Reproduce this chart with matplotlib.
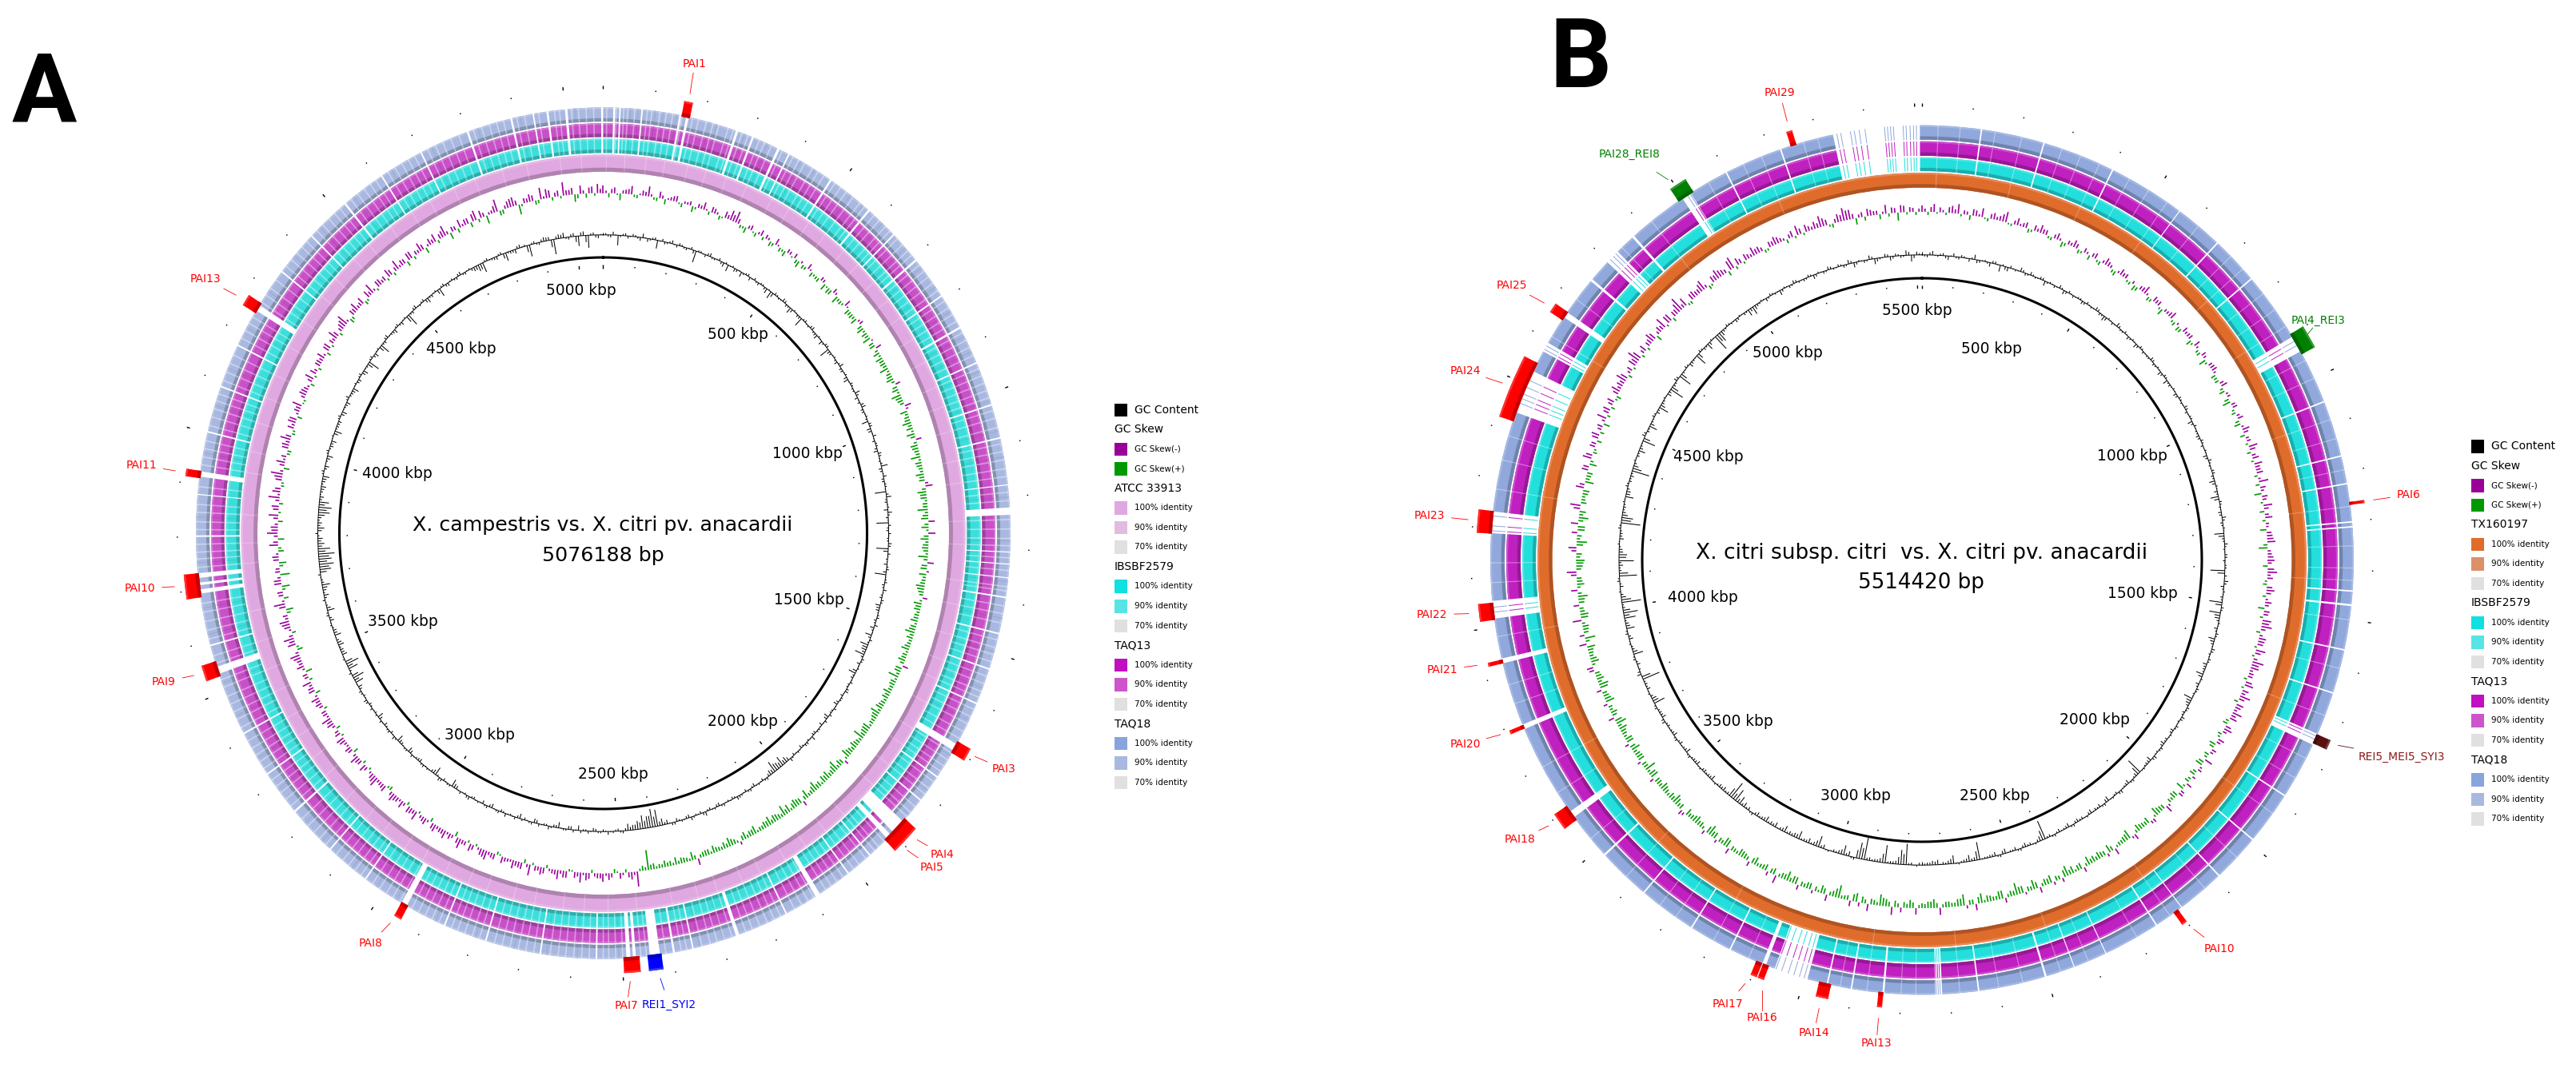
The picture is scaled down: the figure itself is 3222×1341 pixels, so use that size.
import matplotlib
matplotlib.use("Agg")
import matplotlib.pyplot as plt
from matplotlib.patches import Rectangle
import numpy as np

W, H = 3223, 1341

# panel A values, kbp unless noted
a_total = 5076.188
a_ticks = [500, 1000, 1500, 2000, 2500, 3000, 3500, 4000, 4500, 5000]
a_pai_names = ["PAI1", "PAI3", "PAI4", "PAI5", "REI1_SYI2", "PAI7", "PAI8", "PAI9", "PAI10", "PAI11", "PAI13"]
a_pai_kbp = [165, 1695, 1882, 1909, 2436, 2482, 2950, 3545, 3708, 3919, 4258]
a_pai_span = [17, 25, 38, 22, 28, 32, 15, 30, 46, 14, 22]
a_pai_color = ["red", "red", "red", "red", "blue", "red", "red", "red", "red", "red", "red"]
a_gap_start = [20, 32, 76, 152, 166, 268, 302, 357, 381, 477, 572, 640, 705, 790, 860, 935, 1020, 1085, 1176, 1220,
               1304, 1327, 1353, 1390, 1460, 1530, 1600, 1688, 1760, 1815, 1870, 1905, 1960, 2015, 2085, 2160, 2263,
               2357, 2395, 2425, 2473, 2484, 2550, 2662, 2773, 2860, 2945, 3040, 3130, 3230, 3320, 3410, 3535, 3590,
               3692, 3708, 3722, 3800, 3880, 3915, 4000, 4090, 4175, 4252, 4340, 4430, 4520, 4610, 4700, 4800, 4890,
               4935, 4963, 5000, 5072]
a_gap_span = [4, 3, 3, 4, 5, 5, 4, 5, 3, 4, 4, 3, 4, 3, 4, 3, 3, 3, 2, 14,
              2, 2, 2, 3, 3, 3, 3, 14, 3, 3, 28, 10, 3, 3, 10, 3, 7,
              3, 4, 20, 6, 8, 3, 3, 3, 3, 12, 3, 3, 4, 3, 3, 14, 3,
              8, 5, 9, 3, 2, 10, 3, 3, 3, 12, 3, 3, 4, 3, 3, 4, 4,
              3, 4, 5, 4]
a_light = [7, 26, 41, 49, 63, 88, 97, 113, 126, 139, 158, 179, 191, 207, 221, 233, 252, 263, 281, 294, 318, 329, 344,
           368, 392, 405, 418, 436, 449, 463, 489, 503, 517, 534, 551, 563, 588, 602, 619, 631, 652, 667, 683, 694,
           718, 733, 747, 762, 779, 803, 818, 833, 848, 873, 889, 904, 921, 948, 963, 978, 993, 1007, 1033, 1048, 1066,
           1098, 1113, 1129, 1146, 1161, 1191, 1207, 1243, 1261, 1279, 1293, 1316, 1340, 1371, 1379, 1408, 1423, 1441,
           1474, 1489, 1503, 1517, 1546, 1561, 1577, 1589, 1614, 1629, 1644, 1661, 1676, 1708, 1723, 1737, 1749, 1773,
           1789, 1802, 1833, 1847, 1858, 1923, 1938, 1949, 1972, 1989, 2003, 2029, 2044, 2058, 2071, 2099, 2112, 2127,
           2143, 2174, 2188, 2203, 2219, 2235, 2249, 2278, 2294, 2309, 2323, 2340, 2371, 2382, 2413, 2452, 2463, 2499,
           2513, 2527, 2538, 2566, 2581, 2597, 2613, 2628, 2644, 2677, 2693, 2708, 2725, 2741, 2757, 2788, 2803, 2819,
           2834, 2847, 2874, 2889, 2904, 2919, 2934, 2961, 2977, 2992, 3008, 3025, 3053, 3068, 3084, 3099, 3116, 3144,
           3161, 3177, 3194, 3212, 3245, 3261, 3277, 3292, 3307, 3334, 3349, 3364, 3379, 3395, 3424, 3441, 3457, 3473,
           3489, 3508, 3523, 3556, 3571, 3604, 3621, 3638, 3656, 3673, 3742, 3758, 3771, 3786, 3814, 3829, 3847, 3862,
           3896, 3938, 3953, 3969, 3984, 4014, 4031, 4047, 4063, 4077, 4104, 4121, 4139, 4156, 4192, 4208, 4224, 4238,
           4271, 4287, 4303, 4322, 4355, 4371, 4388, 4403, 4417, 4446, 4462, 4479, 4494, 4508, 4536, 4553, 4569, 4584,
           4597, 4626, 4642, 4658, 4673, 4687, 4716, 4733, 4749, 4766, 4783, 4814, 4831, 4847, 4862, 4876, 4903, 4919,
           4947, 4979, 4989, 5013, 5027, 5042, 5057]
a_deep = [54, 70, 104, 120, 147, 214, 228, 287, 336, 410, 442, 527, 558, 610, 676, 725, 771, 826, 881, 913, 954, 1014,
          1073, 1123, 1200, 1284, 1361, 1432, 1497, 1570, 1637, 1713, 1794, 1852, 1943, 2036, 2120, 2197, 2296, 2345,
          2507, 2590, 2651, 2716, 2796, 2881, 2969, 3015, 3075, 3153, 3202, 3285, 3357, 3448, 3516, 3613, 3664, 3751,
          3838, 3961, 4054, 4129, 4215, 4296, 4380, 4455, 4543, 4634, 4725, 4823, 4910, 5020]
a_skew = [9, -5, 7, -8, 5, 10, -4, 6, 12, -3, 8, -6, 4, 7, -5, 3, -7, 5, 9, -4, 6, -5, 8, 12, 14, -4, -7, 6, -5, 7,
          5, -6, 8, -5, -7, 4, 6, -8, -5, 7, -6, -4, 5, -8, -7, 6, -9, -5, 8, -7, -6, -8, 5, -9, -7, -10, -6, 7, -8, -9,
          -7, -11, -6, -9, 6, -8, -12, -7, 8, -9, -6, -11, -8, -10, 7, -9, -6, -12, -8, -5, -10, -7, 9, -11, -8, -6, -13, -7, 8, -9,
          9, -10, -7, -6, -12, 8, -8, -9, -5, -11, -7, 6, -10, -8, -6, -9, -7, -12, -8, -5, -10, -6, -9, 7, -8, -13, -7, -5, -10, -8,
          -6, -9, -12, -7, -5, -10, -8, -14, -6, -9, -7, -11, 5, -8, -13, -6, -10, -9, -7, -12, -5, -11, 6, -8, -7, -10, -13, -6, -9, -11,
          -8, -5, -10, -7, -9, 4, -6, -11, -8, -5, -9, -7, -6, 8, -10, -5, -7, -9, -6, -8, -5, -7, -24, -6, 18, 9, -4, 7, -5, 8,
          10, 6, -4, 9, 12, 7, -3, 8, 11, 5, -4, 9, 6, 13, -5, 7, 10, 4, 8, -4, 6, 11, 8, -3, 9, 5, 12, -6, 7, 10,
          6, 9, -5, 8, 4, 11, 7, -4, 9, 6, 10, -5, 8, 5, 12, 7, -3, 9, 6, 11, -6, 8, 4, 10, 7, -5, 9, 12, 6, -4,
          8, 10, -6, 7, 11, 5, -8, 9, 6, 12, -7, 10, 13, -5, 8, 12, 6, -9, 14, -6, 7, -10, 9, -12, 5, -9, 8, -7, 11, -8,
          13, 9, -6, 12, 7, -5, 14, 10, -4, 8, 15, -7, 11, 6, -5, 9, 13, -4, 8, 10, -6, 7, 12, -3, 9, 6, -5, 11, 8, -4,
          7, 10, -5, 9, 6, 12, -4, 8, 14, -6, 7, 11, 5, -5, 9, 13, -3, 8, 6, 10, -4, 12, 7, -6, 9, 5, 11, -7, 8, 10,
          6, 13, -8, 5, 10, 7, -6, 12, 9, -10, 4, 15, -5, 8, 11, -12, 6, 9, -5, 14, 11, -4, 7, 16, 6, -9, 10, -5, 8, 11]
a_skew_fill = [3, 5, -2, 4, 6, -3, 2, 5, 3, -4, 4, 2, 6, -2, 3, 5, -3, 4, 2, 7, 3, -2, 5, 8, 6, -3, 4, -2, 3, -4,
               3, -4, 2, -3, 5, -2, -5, 3, -4, 2, -3, -5, 4, -2, -6, 3, -4, -3, 2, -5, -4, 3, -6, -3, -5, 2, -7, -4, -3, -6,
               -5, -3, -7, -4, -6, -3, -8, -5, 3, -4, -7, -5, -3, -6, -4, -8, -5, -3, -7, -4, -6, 4, -5, -8, -3, -6, -4, -9, -5, -3,
               -6, -4, -8, -3, -5, -7, 3, -4, -6, -9, -5, -3, -7, -4, -6, -3, -8, -5, -4, -7, -3, -6, -5, -8, -4, -3, -7, -5, -6, -4,
               -7, -4, -8, -5, -3, -9, -6, -4, -7, -5, -8, -3, -6, -4, -9, -5, -7, -3, -6, -8, -4, -5, -7, -10, -3, -6, -4, -8, -5, -7,
               -5, -3, -7, -4, -6, -3, -8, -5, -4, -6, -3, -7, -4, -5, -3, -6, -4, -3, -5, -4, -3, -6, -4, -3, 4, 6, 3, -2, 5, 3,
               6, 4, 7, 3, 5, -2, 8, 4, 6, 3, 7, 5, -3, 4, 8, 6, 3, 5, -2, 7, 4, 9, 3, 6, -3, 5, 7, 4, 3, 6,
               4, 7, 3, 6, -3, 5, 8, 4, 3, 7, 5, -3, 6, 4, 9, 3, 5, -4, 7, 4, 6, 3, 8, -3, 5, 4, 7, 3, 6, 5,
               6, 3, 8, 4, -4, 6, 3, 5, 9, 4, -3, 7, 5, 3, 10, 4, -5, 8, 3, 6, -4, 9, 4, 6, -5, 7, 3, -4, 6, 5,
               8, 4, 6, -3, 9, 5, 3, 7, -3, 10, 4, 6, 3, -4, 8, 5, 7, -3, 4, 9, 3, 6, -2, 5, 8, 3, 6, -3, 4, 7,
               5, 3, 8, -3, 4, 7, 5, 10, 3, -4, 6, 4, 9, -3, 5, 3, 8, 4, -3, 7, 5, 3, 6, 9, -4, 4, 7, 3, 5, -4,
               8, 4, 6, -5, 3, 7, 9, -4, 5, 3, 8, -6, 4, 10, 6, -3, 5, 7, -4, 3, 9, 5, -3, 6, 8, -5, 4, 7, -3, 5]
a_gc = [3, -2, 4, -12, 2, -3, 3, -2, 5, -4, 2, -10, 3, -2, 4, -3, 2, -3, 3, -14, 2, -3, 4, -2, 3, -5, -8, 2, -3, -6,
        2, -4, 3, -3, 2, -6, -9, 3, -2, 4, -3, -7, 2, -3, -11, 3, -2, 4, -3, 2, -5, 3, -12, -3, 2, -4, 5, -3, 2, -6,
        3, -2, 6, -4, -3, 5, -3, 2, -8, 3, -4, 4, -3, 2, -5, 3, -2, 8, -3, 4, -3, 2, -14, 6, -3, 2, 5, -3, -15, -2,
        3, -2, 4, -15, 3, -2, -4, 3, -14, 2, -3, 4, -2, 3, -6, -4, 2, -3, 4, -2, -8, 3, -10, -6, -12, 3, -4, 2, -9, -3,
        3, -2, 4, -3, 2, -5, 3, -2, -6, 3, -4, 2, -3, 5, -2, 3, -4, 2, -3, 4, -7, -12, -8, -14, -6, 3, -3, 2, -4, 3,
        -3, 2, 4, -3, -2, 3, -4, 2, -3, 5, -3, -2, 4, -3, 2, -4, 3, -5, -8, -20, -22, -14, -16, -10, -6, -8, 3, -3, 2, 4,
        -3, 2, -4, 3, -2, -6, 3, -4, 2, -7, -3, 4, -2, 3, -5, 2, -3, -6, 3, -2, 4, -3, 2, -5, 3, -4, 2, -3, 4, -2,
        3, -4, -9, 2, -3, 4, -10, -3, 2, 3, -4, -2, 3, -6, 2, -3, -8, 4, -3, 2, -4, 3, -7, -2, 3, -3, 4, -2, 3, -5,
        -10, -14, 3, -12, -16, 2, -6, -4, -7, -3, -8, -4, 2, -5, 3, -9, -2, 3, -6, -4, -10, -2, 3, -14, -18, -16, -20, -15, -8, -6,
        3, -8, -5, -4, -14, -16, -12, -5, -3, -6, -4, -8, 3, -5, -2, -7, 3, -4, -6, 2, -9, -3, -4, 3, -6, -2, -5, 4, -3, -7,
        2, -4, 3, -6, -2, -14, 3, -5, 2, -12, -3, 4, -2, -5, 3, -4, 2, -15, -3, 4, -2, 3, -6, -3, 2, -10, 3, -4, 2, -3,
        4, -3, 2, -5, -8, -12, 3, -2, -4, 3, -10, -3, -5, 4, 2, -14, 3, -3, 5, 4, -18, 5, 6, -3, 4, -12, 5, -15, 3, -4]
a_gc_fill = [2, -3, 1, -2, 3, -1, 2, -4, 1, -2, 3, -1, -3, 2, -1, 3, -2, 1, -4, 2, -1, 3, -2, 1, -3, 2, -1, -4, 1, -2,
             3, -1, -2, 2, -3, 1, -5, 2, -1, 3, -2, -4, 1, -3, 2, -1, 3, -2, -5, 1, -2, 3, -4, 1, -2, 2, -3, 1, -4, -1,
             2, -2, 3, -1, 4, -3, 1, -2, 3, -5, 1, -1, 2, -3, 4, -1, 2, -4, 1, -3, 2, -1, 3, -2, 1, -5, 2, -1, 3, -3,
             1, -2, 3, -6, 1, -1, 2, -4, 1, 3, -2, 1, -3, 2, -4, -1, 3, -2, -5, 1, -3, -2, -6, -4, -3, 2, -1, -5, -2, 1,
             -2, 3, -1, 2, -3, 1, -2, 3, -4, 1, -1, 2, -3, 1, 3, -2, 1, -1, 2, -4, -5, -6, -9, -5, -3, 2, -1, 1, -2, 2,
             -1, 3, -2, 1, -1, 2, -3, 1, -2, 3, -1, 2, -4, 1, -2, 3, -1, -3, -5, -12, -14, -9, -8, -6, -4, -3, 2, -2, 1, -1,
             2, -3, 1, -2, 3, -1, -4, 2, -1, -3, 2, -2, 1, -4, 3, -1, 2, -3, 1, -1, -2, 3, -1, -3, 2, -1, 1, -2, 3, -1,
             1, -5, 2, -1, 3, -2, -5, 1, -1, 2, -3, 1, -4, 2, -1, -4, 2, -1, 3, -2, 1, -4, 2, -1, -2, 3, -1, 2, -3, 1,
             -6, -8, -2, -7, -9, 1, -4, -2, -5, -1, -4, -2, 1, -3, 2, -5, -1, -3, -2, -6, -3, 1, -8, -12, -10, -13, -9, -5, -4, -2,
             -5, -3, -2, -8, -10, -7, -3, -1, -4, -2, -5, 2, -3, -1, -4, 2, -2, -3, 1, -5, -2, -3, 2, -4, -1, -3, 2, -2, -4, 1,
             -3, 2, -4, -1, -7, 2, -3, 1, -6, -2, 3, -1, -3, 2, -2, 1, -8, -2, 3, -1, 2, -4, -2, 1, -5, 2, -3, 1, -2, 3,
             -2, 1, -3, -5, -7, 2, -1, -3, 2, -6, -2, -3, 3, 1, -8, 2, -2, 3, 4, -9, 3, 4, -2, 3, -7, 4, -8, 2, -3, 1]

# panel B values
b_total = 5514.420
b_ticks = [500, 1000, 1500, 2000, 2500, 3000, 3500, 4000, 4500, 5000, 5500]
b_pai_names = ["PAI4_REI3", "PAI6", "REI5_MEI5_SYI3", "PAI10", "PAI13", "PAI14", "PAI16", "PAI17", "PAI18", "PAI20",
               "PAI21", "PAI22", "PAI23", "PAI24", "PAI25", "PAI28_REI8", "PAI29"]
b_pai_kbp = [922, 1264, 1751, 2205, 2841, 2956, 3082, 3097, 3590, 3790, 3929, 4032, 4212, 4485, 4659, 5006, 5249]
b_pai_span = [47, 6, 20, 11, 10, 25, 13, 13, 35, 8, 8, 35, 46, 128, 20, 36, 12]
b_pai_color = ["green", "red", "#5a1010", "red", "red", "red", "red", "red", "red", "red",
               "red", "red", "red", "red", "red", "green", "red"]
b_gap_start = [120, 250, 400, 560, 660, 760, 905, 1050, 1165, 1222, 1300, 1310, 1440, 1468, 1560, 1650, 1740, 1880,
               1990, 2090, 2190, 2252, 2370, 2440, 2500, 2640, 2716, 2834, 2900, 2950, 2993, 3082, 3160, 3250, 3370,
               3480, 3580, 3785, 3925, 4017, 4190, 4440, 4575, 4656, 4747, 4798, 4869, 4998, 5100, 5220, 5332]
b_gap_span = [3, 3, 3, 2, 3, 3, 34, 3, 3, 3, 3, 3, 3, 4, 3, 3, 24, 3,
              3, 3, 2, 3, 2, 2, 4, 3, 14, 4, 3, 3, 70, 8, 3, 3, 3,
              4, 14, 10, 10, 36, 44, 90, 20, 12, 5, 30, 5, 20, 3, 3, 178]
b_kept = [5340, 5348, 5368, 5376, 5386, 5398, 5438, 5444, 5450, 5456, 5476, 5482, 5490, 5497, 5503, 5010, 5016,
          4806, 4815, 4822, 4580, 4588, 4460, 4470, 4480, 4495, 4510, 4195, 4205, 4225, 4030, 4040, 3000, 3010,
          3022, 3034, 3048, 3060, 2720, 2724, 2728, 915, 925, 1745, 1752]
b_light = [33, 78, 150, 205, 290, 330, 372, 440, 485, 530, 610, 700, 735, 800, 840, 880, 960, 1000, 1090, 1130, 1195,
           1270, 1350, 1395, 1420, 1500, 1600, 1700, 1795, 1840, 1925, 2040, 2130, 2220, 2300, 2410, 2470, 2550, 2600,
           2680, 2770, 2800, 2870, 2925, 3120, 3200, 3290, 3330, 3420, 3525, 3640, 3700, 3840, 3880, 3980, 4090, 4130,
           4280, 4340, 4390, 4610, 4700, 4840, 4920, 5060, 5140, 5180, 5270, 5300]
b_skew = [8, -4, 10, 6, -3, 9, 12, 5, -6, 7, 11, -4, 8, 6, 13, -3, 9, 5, -5, 7, 10, 6, -4, 8, -7, 5, 9, -5, 6, -6,
          7, -5, 9, 4, -6, 8, 6, -4, -7, 5, 10, -5, 7, 6, -8, 4, 9, -5, -6, 7, 5, -7, 8, -4, 6, -9, 5, 7, -6, -5,
          8, -7, 4, -10, 6, -5, 7, -8, 9, -6, 5, 11, -5, 8, 10, 6, -4, 12, 7, -9, 5, 11, -6, 9, 4, -8, 7, 10, -11, 5,
          9, -6, 12, 7, -5, 10, -4, 8, -8, 6, 11, 13, -5, 9, 7, 12, -3, 14, 10, 6, -4, 11, 8, 13, -5, 7, 12, 9, -6, 10,
          -5, 8, -8, 6, -6, 10, -9, 5, -7, -4, 7, -10, 6, -8, -5, 9, -7, -11, 5, -8, -6, -9, 7, -12, -7, -5, 8, -10, -6, -9,
          -8, -11, 6, -7, -9, -13, 5, -6, -10, -8, 7, -12, -6, -9, -15, -7, 6, -10, -5, -8, -12, 8, -6, -14, -9, -5, -7, 9, -11, -8,
          -6, 8, -10, -7, -5, 10, -9, -14, -6, 9, -8, -11, 7, -5, -16, -7, 8, -10, -6, -8, -5, 6, -9, -12, -7, 10, -6, -8, -5, -10,
          6, -7, -9, -5, 7, -11, -6, -8, -13, 5, -7, -10, -6, -9, 6, -5, -12, -8, -6, -10, -7, 5, -9, -14, -6, -8, -7, -11, 5, -9,
          -6, -10, -13, 7, -8, -5, -11, -7, 6, -12, -9, -6, 8, -10, -5, -7, 9, -13, -6, -8, 11, -10, -5, -7, -12, 8, -9, -6, 12, -8,
          -11, -7, 10, -13, -6, -9, 9, -12, -8, 13, -5, -7, 10, -11, -6, 8, -9, 11, -5, 7, -6, 10, 5, -8, 12, 7, -5, 9, -6, 11,
          8, 13, -5, 7, 10, 16, -4, 9, 6, 12, -7, 8, 14, 10, -5, 7, 18, 11, -4, 9, 6, 13, -5, 8, 12, 7, -6, 15, 9, -3,
          6, 11, 8, -4, 7, 10, 5, -5, 8, 12, -3, 6, 9, 14, 7, -5, 10, 16, 12, -8, 6, 9, 5, -6, 11, 7, -10, 8, 6, -4]
b_skew_fill = [4, 6, -2, 3, 7, 5, -3, 4, 8, 3, -2, 6, 4, 9, -2, 5, 3, 7, -3, 4, 6, -3, 5, 3, -4, 4, 6, -3, 3, 5,
               -3, 4, 6, -4, 3, 5, -3, 4, -5, 6, 3, -4, 5, -3, 4, 6, -3, 3, -5, 4, 6, -3, 3, -5, 4, -3, 6, 3, -4, 5,
               -4, 3, -6, 5, -3, 4, -5, 3, 6, 4, -3, 7, 5, -3, 6, 8, 3, -5, 4, 7, -3, 6, 5, -4, 3, 6, 8, -5, 4, 7,
               5, 8, 4, -3, 7, 6, 3, 5, 7, -4, 9, 6, 4, 8, -3, 7, 5, 9, 4, 6, 8, -3, 5, 7, 9, 4, 6, -4, 7, 5,
               -3, 5, -6, 4, -4, -7, 3, -5, 4, -6, -3, 5, -7, -4, 3, -6, -8, -3, 4, -5, -7, -4, 3, -8, -5, -3, -6, 4, -7, -5,
               -6, -4, -8, -3, -6, -9, -5, 4, -7, -4, -8, -5, 3, -9, -6, -4, -10, -5, -7, -3, -8, -6, 4, -9, -5, -7, -4, -6, -8, -5,
               -4, -7, -5, 6, -8, -6, -10, -4, -7, -5, 5, -9, -6, -4, -11, -5, -7, -3, 4, -8, -6, -9, -5, -7, -4, -8, 5, -6, -4, -7,
               -5, -8, -4, -6, -10, -5, 4, -7, -9, -4, -6, -8, -5, 4, -7, -9, -6, -4, -8, -5, -7, -10, -4, -6, 4, -8, -5, -7, -9, -4,
               -7, -5, -9, -6, -4, 5, -8, -6, -10, -5, -7, 6, -4, -8, -6, -10, -5, 6, -7, -4, -9, -6, 7, -8, -5, -4, -7, 7, -6, -9,
               -5, 6, -8, -4, 7, -9, -6, -5, 8, -7, -4, -8, 6, -5, -7, 7, -4, 8, -3, 6, 8, -5, 7, 4, -4, 9, 6, -3, 7, 5,
               6, 9, 4, -3, 8, 11, 5, -4, 7, 9, 4, 6, -3, 10, 7, 12, 5, -3, 8, 6, 10, 4, -3, 7, 9, 5, 12, -4, 6, 8,
               4, 7, 5, -3, 6, 8, 3, 5, -3, 7, 9, 4, 6, 10, -3, 5, 8, 12, 6, 4, -5, 7, 5, 3, -4, 6, 9, -3, 5, 4]
b_gc = [4, -3, 5, -2, 3, -5, 4, -3, 2, -4, 6, -3, 2, -5, 3, -8, -4, 3, -2, 5, -3, 4, -2, 3, -6, 2, -3, 4, -5, 3,
        -3, 2, -4, 3, -2, 4, -3, -6, 2, -3, 5, -2, 3, -4, 2, -5, 3, -3, -2, 4, -3, 2, -5, 3, -6, -3, 2, -4, 3, -2,
        4, -3, 2, -6, 3, -2, -4, 3, -3, 2, -5, 4, -2, 3, -3, -7, 2, -4, -10, 3, -2, -4, 5, -3, 2, -12, -3, 4, -2, 3,
        -3, 2, -18, 3, 5, -4, 2, -3, -16, 3, -14, -6, 2, -4, 3, -8, -3, 4, -2, 3, -5, -3, -9, 2, -4, 3, -2, -11, -5, 3,
        -3, 4, -2, 3, -4, 2, -3, -5, 3, -2, 4, -6, -3, 2, -20, -4, 3, -5, -2, 4, -3, 2, -6, 3, -4, -3, -5, 2, -3, -4,
        3, -5, -2, -4, 3, -3, -24, -6, 2, -3, -5, 3, -4, -2, -6, 3, -5, -3, -2, -22, -4, -8, -3, 2, -10, -4, -3, -6, -5, -3,
        -4, 2, -3, -26, -18, -4, -3, -22, -5, -3, -4, -28, -20, 3, -6, -12, -4, -3, 2, -5, -14, -4, -6, -3, -10, -5, -4, -8, -3, -6,
        -4, -7, -3, -5, 3, -4, -6, -10, -16, -22, -3, -5, -4, 2, -6, -3, -4, 2, -5, -3, 3, -6, -2, -4, 3, -5, -2, -3, 4, -5,
        -3, 3, -14, -6, 2, -4, -3, -22, 5, -2, -4, 3, -12, -3, 2, -5, 3, -10, -4, -14, -18, -3, -24, -6, 2, -4, 3, -22, -3, -5,
        -18, -10, -4, 2, -5, -3, 3, -24, -14, -4, -3, 2, -10, -5, 3, -3, -4, -22, -6, 2, -3, -8, -2, -16, 4, -3, -10, -2, 3, -4,
        -12, -3, 2, -5, -18, -3, 4, -16, -2, 3, -5, -2, -14, 3, -3, -8, 2, -20, -12, -3, 3, -2, -4, 2, -3, -8, -10, -3, 2, -4,
        3, -2, -6, 2, -3, 4, -2, -3, 3, -5, 2, -3, 4, -2, 3, -3, 5, -6, 2, -3, 5, -7, -2, 4, -5, 3, -3, 6, -8, 4]
b_gc_fill = [-2, 3, -1, 2, -3, 1, -2, 3, -1, 2, -4, 1, -2, 3, -1, 2, -5, 1, -1, 3, -2, 2, -1, 3, -2, 1, -1, 2, -3, 1,
             -1, 2, -3, 1, -1, 3, -2, -4, 1, -1, 3, -2, 1, -2, 1, -3, 2, -1, -2, 3, -2, 1, -3, 2, -2, -1, 1, -3, 2, -1,
             3, -1, 2, -3, 1, -2, -3, 2, -1, 1, -3, 2, -1, 3, -2, -4, 1, -2, -6, 2, -1, -3, 3, -2, 1, -7, -2, 2, -1, 3,
             -1, 2, -9, 1, 3, -2, 1, -2, -8, 2, -7, -3, 1, -2, 2, -5, -1, 3, -1, 2, -3, -2, -5, 1, -2, 2, -1, -6, -3, 2,
             -2, 3, -1, 2, -3, 1, -2, -3, 2, -1, 3, -3, -2, 1, -10, -2, 2, -3, -1, 3, -2, 1, -4, 2, -2, -1, -3, 1, -2, -3,
             2, -3, -1, -2, 2, -2, -12, -3, 1, -2, -3, 2, -2, -1, -4, 2, -3, -2, -1, -11, -3, -4, -2, 1, -6, -2, -1, -4, -3, -2,
             -3, 1, -2, -13, -9, -3, -2, -11, -3, -2, -3, -14, -10, 2, -3, -6, -2, -1, 1, -3, -7, -2, -3, -2, -5, -3, -2, -4, -1, -3,
             -2, -4, -2, -3, 2, -2, -3, -5, -8, -11, -2, -3, -2, 1, -3, -2, -3, 1, -3, -2, 2, -3, -1, -2, 2, -3, -1, -2, 3, -3,
             -2, 2, -7, -3, 1, -2, -2, -11, 3, -1, -2, 2, -6, -2, 1, -3, 2, -5, -2, -7, -9, -2, -12, -3, 1, -2, 2, -11, -2, -3,
             -9, -5, -2, 1, -3, -2, 2, -12, -7, -2, -2, 1, -5, -3, 2, -2, -2, -11, -3, 1, -2, -4, -1, -8, 3, -2, -5, -1, 2, -2,
             -6, -2, 1, -3, -9, -2, 3, -8, -1, 2, -3, -1, -7, 2, -2, -4, 1, -10, -6, -2, 2, -1, -3, 1, -2, -4, -5, -2, 1, -2,
             2, -1, -3, 1, -2, 3, -1, -2, 2, -3, 1, -2, 3, -1, 2, -2, 3, -3, 1, -2, 3, -4, -1, 3, -3, 2, -2, 4, -4, 2]

legend_a = ["ATCC 33913", "IBSBF2579", "TAQ13", "TAQ18"]
legend_b = ["TX160197", "IBSBF2579", "TAQ13", "TAQ18"]
colors_atcc = ["#e0a8e0", "#e0bce0", "#e0e0e0"]
colors_tx = ["#e06c2c", "#dc9068", "#e0e0e0"]
colors_ibsbf = ["#10e0e0", "#58e4e4", "#e0e0e0"]
colors_taq13 = ["#c010c0", "#cc55cc", "#e0e0e0"]
colors_taq18 = ["#88a4dc", "#a8b8e0", "#e0e0e0"]
identity_labels = ["100% identity", "90% identity", "70% identity"]

# layout, picture pixels
a_tick_xy = [(923, 418), (1010, 567), (1012, 750), (929, 902), (767, 968), (600, 919), (504, 777), (497, 592), (577, 436), (727, 363)]
b_tick_xy = [(2491, 436), (2667, 570), (2680, 742), (2620, 900), (2495, 995), (2321, 995), (2174, 902), (2130, 747), (2137, 571), (2236, 441), (2398, 388)]
a_label_xy = [(869, 80), (1256, 962), (1179, 1069), (1166, 1085), (837, 1257), (784, 1258), (464, 1180), (205, 853), (175, 736), (177, 582), (257, 349)]
a_box_xy = [(860, 136), (1202, 939), (1131, 1041), (1119, 1053), (820, 1206), (791, 1209), (501, 1141), (261, 841), (237, 733), (238, 592), (312, 378)]
b_label_xy = [(2900, 401), (3013, 619), (3004, 947), (2776, 1187), (2347, 1305), (2269, 1292), (2204, 1273), (2161, 1256), (1901, 1050),
              (1833, 931), (1804, 838), (1791, 769), (1788, 645), (1833, 464), (1891, 357), (2038, 193), (2226, 116)]
b_box_xy = [(2881, 425), (2950, 628), (2906, 929), (2729, 1151), (2351, 1255), (2279, 1243), (2204, 1220), (2195, 1216), (1954, 1025),
            (1895, 914), (1866, 830), (1856, 767), (1855, 652), (1897, 485), (1948, 388), (2102, 235), (2240, 170)]

fig = plt.figure(figsize=(W / 100, H / 100), dpi=100)
page = fig.add_axes([0, 0, 1, 1])
page.set_xlim(0, W)
page.set_ylim(H, 0)
page.axis("off")


def darker(c, f):
    return tuple(np.array(matplotlib.colors.to_rgb(c)) * f)


def lighter(c, f):
    rgb = np.array(matplotlib.colors.to_rgb(c))
    return tuple(rgb + (1 - rgb) * f)


def make_polar(cx, cy, rx, ry, big):
    hh = big * ry / rx
    ax = fig.add_axes([(cx - big) / W, 1 - (cy + hh) / H, 2 * big / W, 2 * hh / H], projection="polar")
    ax.set_theta_zero_location("N")
    ax.set_theta_direction(-1)
    ax.set_aspect("auto")
    ax.set_ylim(0, big)
    ax.set_axis_off()
    ax.patch.set_alpha(0)
    return ax


def band(ax, start, span, total, r0, r1, color, z=2):
    # one block with the inner dark strip and outer pale edge the rings have
    th = np.radians((start + span / 2) / total * 360)
    w = np.radians(span / total * 360)
    t = r1 - r0
    ax.bar(th, t, w, bottom=r0, color=color, lw=0, zorder=z)
    ax.bar(th, t * 0.24, w, bottom=r0, color=darker(color, 0.78), lw=0, zorder=z)
    ax.bar(th, t * 0.12, w, bottom=r1 - t * 0.12, color=lighter(color, 0.2), lw=0, zorder=z)


def draw_panel(ax, total, rb, r_skew, r_gc, rings, solid, gaps, kept, light, deep, skew, skew2, gc, gc2, pai, r_out):
    full = np.linspace(0, 2 * np.pi, 721)
    ax.plot(full, np.full(721, rb), color="black", lw=2.2, zorder=3)

    # outer and inner tick marks
    for k in np.arange(0, total, 100):
        th = np.radians(k / total * 360)
        size = 4 if k % 500 == 0 else 1.5
        ax.vlines(th, rb - 9 - size, rb - 9, color="black", lw=1.0, zorder=3)
        ax.vlines(th, r_out, r_out + size, color="black", lw=1.0, zorder=3)

    step = 2 * np.pi / len(gc)
    th = np.arange(len(gc)) * step
    tt = np.r_[th, th + step / 2]

    # gc content
    vv = np.r_[np.array(gc), np.array(gc2)]
    ax.plot(full, np.full(721, r_gc), color="black", lw=0.7, zorder=3)
    ax.vlines(tt, r_gc, r_gc + vv, color="black", lw=0.75, zorder=3)

    # gc skew
    vv = np.r_[np.array(skew), np.array(skew2)]
    up = vv > 0
    ax.vlines(tt[up], r_skew, r_skew + vv[up], color="#990099", lw=1.2, zorder=3)
    ax.vlines(tt[~up], r_skew, r_skew + vv[~up], color="#009900", lw=1.2, zorder=3)

    # blast rings, the innermost one has no gaps
    for r0, r1, c in rings:
        band(ax, 0, total, total, r0, r1, c)
    r0, r1, c = rings[0]
    th = np.radians(np.array(light) / total * 360)
    ax.vlines(th[::3], r0, r1, color="white", lw=0.7, alpha=0.3, zorder=4)

    top = rings[1:]
    bot, roof = top[0][0], top[-1][1]
    for s, span in zip(gaps[0], gaps[1]):
        ax.bar(np.radians((s + span / 2) / total * 360), roof - bot + 2, np.radians(span / total * 360),
               bottom=bot - 1, color="white", lw=0, zorder=5)
    for r0, r1, c in top:
        if kept is not None:
            ax.vlines(np.radians(np.array(kept) / total * 360), r0, r1, color=c, lw=0.7, zorder=6)
        ax.vlines(th, r0, r1, color="white", lw=0.8 if solid else 1.2, alpha=0.4, zorder=6)
        if deep is not None:
            ax.vlines(np.radians(np.array(deep) / total * 360), r0 + 4, r1, color=darker(c, 0.85), lw=1.2, alpha=0.35, zorder=6)

    # islands
    for k, s, c in zip(pai[0], pai[1], pai[2]):
        band(ax, k - s / 2, s, total, r_out - 24, r_out - 5, c, z=7)


def leaders(names, label_xy, box_xy, cols, text_colors):
    for n, (tx, ty), (bx, by), c, tc in zip(names, label_xy, box_xy, cols, text_colors):
        page.text(tx, ty, n, color=tc, fontsize=10, ha="center", va="center", zorder=10)
        dx, dy = bx - tx, by - ty
        d = np.hypot(dx, dy)
        half = 6 + 0.5 * 7.6 * len(n) * abs(dx) / d
        page.plot([tx + dx / d * (half + 3), bx - dx / d * 19], [ty + dy / d * (half + 3), by - dy / d * 19], color=c, lw=0.6, zorder=10)


def legend(x_box, y0, names, first):
    step = 24.53
    sets = [first, colors_ibsbf, colors_taq13, colors_taq18]
    page.add_patch(Rectangle((x_box, y0 - 8), 16.5, 16.5, color="black", lw=0))
    page.text(x_box + 25, y0, "GC Content", fontsize=10, va="center")
    page.text(x_box, y0 + step, "GC Skew", fontsize=10, va="center")
    row = 2
    for lab, c in zip(["GC Skew(-)", "GC Skew(+)"], ["#990099", "#009900"]):
        y = y0 + row * step
        page.add_patch(Rectangle((x_box, y - 8), 16.5, 16.5, color=c, lw=0))
        page.text(x_box + 25, y, lab, fontsize=7.5, va="center")
        row += 1
    for name, cols in zip(names, sets):
        page.text(x_box, y0 + row * step, name, fontsize=10, va="center")
        row += 1
        for lab, c in zip(identity_labels, cols):
            y = y0 + row * step
            page.add_patch(Rectangle((x_box, y - 8), 16.5, 16.5, color=c, lw=0))
            page.text(x_box + 25, y, lab, fontsize=7.5, va="center")
            row += 1


# panel A
ax_a = make_polar(754.5, 667, 330, 345, 600)
rings_a = [(432.5, 453, colors_atcc[0]), (455, 472, "#3cdedc"), (474, 490.5, "#c850c8"), (492.5, 509.5, "#a8b8e0")]
draw_panel(ax_a, a_total, 330, 407, 357, rings_a, False, (a_gap_start, a_gap_span), None, a_light, a_deep,
           a_skew, a_skew_fill, a_gc, a_gc_fill, (a_pai_kbp, a_pai_span, a_pai_color), 532)
leaders(a_pai_names, a_label_xy, a_box_xy, a_pai_color, a_pai_color)
for t, (x, y) in zip(a_ticks, a_tick_xy):
    page.text(x, y, "%d kbp" % t, fontsize=13.4, ha="center", va="center", zorder=10)
page.text(754, 657, "X. campestris vs. X. citri pv. anacardii", fontsize=18.2, ha="center", va="center", zorder=10)
page.text(754, 695, "5076188 bp", fontsize=18.2, ha="center", va="center", zorder=10)
legend(1394, 512.7, legend_a, colors_atcc)

# panel B
ax_b = make_polar(2404, 700.5, 350, 352.5, 620)
rings_b = [(462.5, 481, colors_tx[0]), (483, 500, "#22dedc"), (502, 520, "#c020c0"), (522, 540, "#90a8dc")]
draw_panel(ax_b, b_total, 350, 432.5, 379, rings_b, True, (b_gap_start, b_gap_span), b_kept, b_light, None,
           b_skew, b_skew_fill, b_gc, b_gc_fill, (b_pai_kbp, b_pai_span, b_pai_color), 563)
b_text_colors = ["green" if c == "green" else ("#8b1a1a" if c == "#5a1010" else "red") for c in b_pai_color]
leaders(b_pai_names, b_label_xy, b_box_xy, b_pai_color, b_text_colors)
for t, (x, y) in zip(b_ticks, b_tick_xy):
    page.text(x, y, "%d kbp" % t, fontsize=13.4, ha="center", va="center", zorder=10)
page.text(2404, 692, "X. citri subsp. citri  vs. X. citri pv. anacardii", fontsize=19, ha="center", va="center", zorder=10)
page.text(2403, 729, "5514420 bp", fontsize=18.8, ha="center", va="center", zorder=10)
legend(3091, 558, legend_b, colors_tx)

# panel letters
page.text(55.5, 152, "A", family="Roboto", fontweight="bold", fontsize=87, ha="center", va="baseline")
page.text(1977, 109, "B", family="Roboto", fontweight="bold", fontsize=87, ha="center", va="baseline")

fig.savefig("out.png", dpi=100)
